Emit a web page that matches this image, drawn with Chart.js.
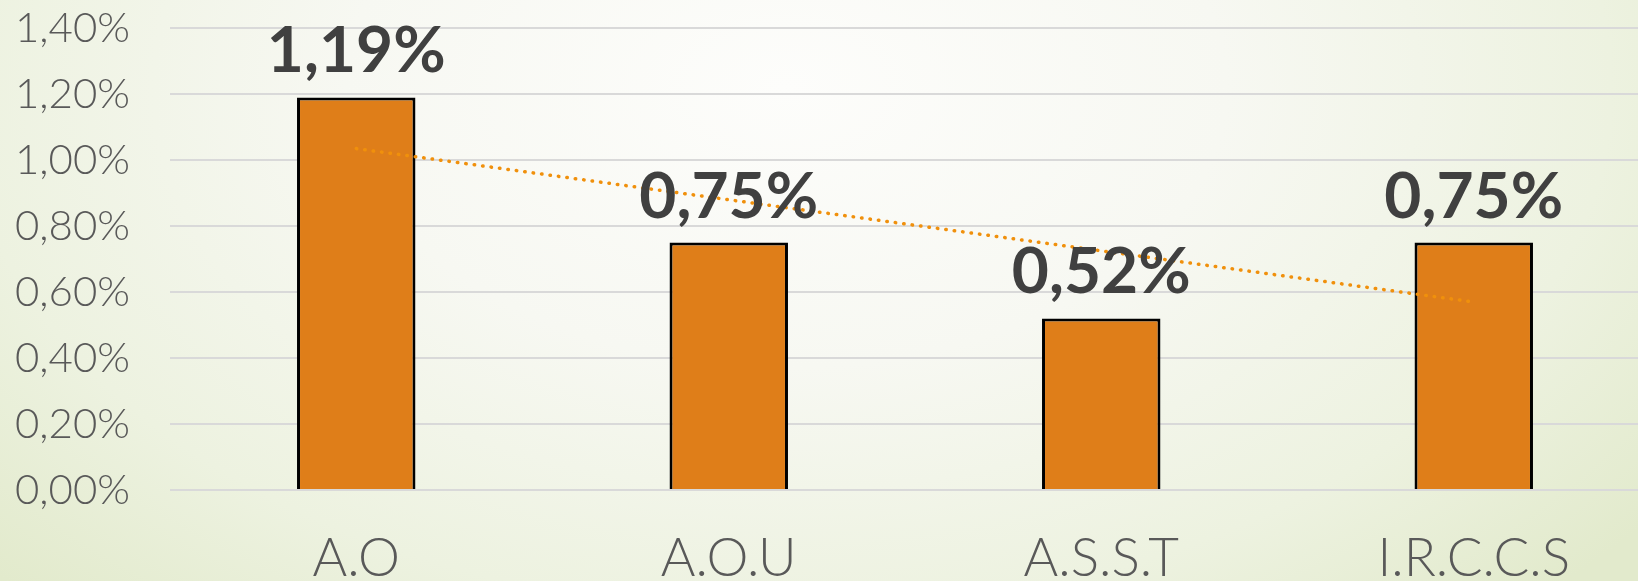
<!DOCTYPE html>
<html>
<head>
<meta charset="utf-8">
<script src="https://cdn.jsdelivr.net/npm/chart.js@4"></script>
<style>
  html, body { margin: 0; padding: 0; overflow: hidden; }
  body {
    width: 1638px; height: 581px;
    background: radial-gradient(ellipse 1100px 700px at 48% 15%, #fdfdfb 0%, #f7f8f2 40%, #edf2e0 75%, #e2eacc 100%);
  }
  #wrap { position: relative; width: 1660px; height: 618px; margin-top: -37px; }
</style>
</head>
<body>
<div id="wrap"><canvas id="grafico" width="1660" height="618"></canvas></div>
<script>
// Dati
const categorie = ['A.O', 'A.O.U', 'A.S.S.T', 'I.R.C.C.S'];
const valori = [1.19, 0.75, 0.52, 0.75];
const tendenza = [1.035, 0.88, 0.725, 0.57]; // linea di tendenza
const tickY = [0, 0.2, 0.4, 0.6, 0.8, 1.0, 1.2, 1.4];

const fmt = v => v.toFixed(2).replace('.', ',') + '%';

// etichette sopra le barre
const etichette = {
    id: 'etichette',
    afterDatasetsDraw(chart) {
        const ctx = chart.ctx;
        const meta = chart.getDatasetMeta(1);
        ctx.save();
        ctx.font = 'bold 64px Lato';
        ctx.fillStyle = '#404040';
        ctx.textAlign = 'center';
        ctx.textBaseline = 'alphabetic';
        meta.data.forEach((bar, i) => {
            ctx.fillText(fmt(valori[i]), bar.x, bar.y - 25);
        });
        ctx.restore();
    }
};

const ctx = document.getElementById('grafico').getContext('2d');
const grafico = new Chart(ctx, {
    type: 'bar',
    data: {
        labels: categorie,
        datasets: [{
            type: 'line',
            label: 'Tendenza',
            data: tendenza,
            borderColor: '#f0900c',
            borderWidth: 3.5,
            borderDash: [0.5, 8],
            borderCapStyle: 'round',
            pointRadius: 0,
            fill: false,
            order: 0
        }, {
            label: 'Valori',
            data: valori,
            backgroundColor: '#df7e19',
            borderColor: '#000000',
            borderWidth: 3,
            borderSkipped: 'bottom',
            categoryPercentage: 1,
            barPercentage: 0.318,
            order: 1
        }]
    },
    options: {
        responsive: false,
        animation: false,
        plugins: {
            legend: { display: false },
            tooltip: { enabled: false }
        },
        scales: {
            x: {
                grid: { display: false, drawTicks: false },
                border: { display: false },
                ticks: {
                    color: '#595959',
                    font: { family: 'Lato', size: 53, weight: 300 },
                    padding: 37
                },
                afterFit(scale) { scale.height = 91; }
            },
            y: {
                min: 0,
                max: 1.4,
                afterBuildTicks(scale) { scale.ticks = tickY.map(v => ({ value: v })); },
                grid: { color: '#d9d9d9', lineWidth: 2, drawTicks: false },
                border: { display: false },
                ticks: {
                    color: '#595959',
                    font: { family: 'Lato', size: 42, weight: 300 },
                    padding: 40,
                    callback: v => fmt(v)
                },
                afterFit(scale) { scale.width = 170; }
            }
        }
    },
    plugins: [etichette]
});
</script>
</body>
</html>
